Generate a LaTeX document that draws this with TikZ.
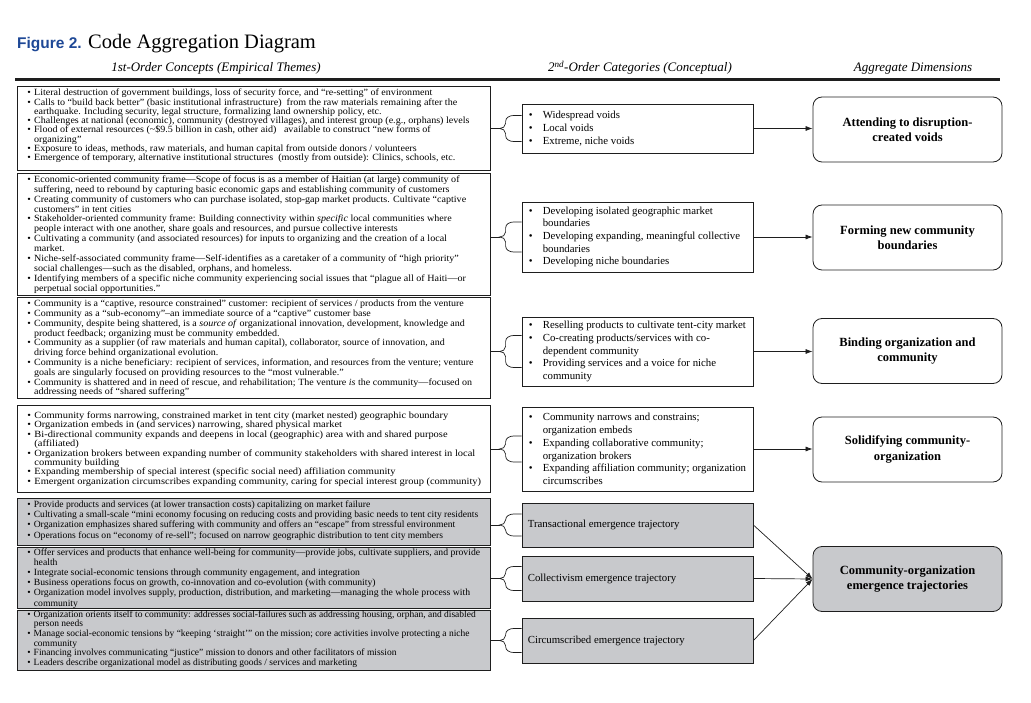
\documentclass[tikz,border=0pt]{standalone}
\usepackage{fontspec}
\setmainfont{Liberation Serif}
\newfontfamily\figsans{Liberation Sans}
\usetikzlibrary{arrows.meta,calc}
\definecolor{boxgray}{RGB}{200,201,204}
\definecolor{figblue}{RGB}{30,72,150}
\definecolor{ink}{RGB}{30,30,30}
\newcommand{\bl}{\makebox[6.5pt][l]{\textbullet}}
\newcommand{\cl}{\hspace*{6.5pt}}
\newcommand{\Lb}[1]{\hbox{\bl #1}}
\newcommand{\Lc}[1]{\hbox{\cl #1}}
\newcommand{\mb}{\makebox[14pt][l]{\textbullet}}
\newcommand{\mc}{\hspace*{14pt}}
\newcommand{\ltx}[2]{\scalebox{#1}[1]{\vbox{\lineskiplimit=-\maxdimen #2}}}
\newcommand{\brc}[3]{%
 \coordinate (#2tip) at ($(#2.west)+(-22,0)$);
 \draw[conn] (#1.east |- #2tip) -- (#2tip);
 \draw[conn] ($(#2.west)+(0,-#3)$) -- ++(-8,0) to[out=180,in=90] ++(-8,6) -- ($(#2tip)+(6,-5)$) to[out=-90,in=0] (#2tip) to[out=0,in=90] ++(6,5) -- ($(#2.west)+(-16,#3-6)$) to[out=-90,in=180] ++(8,6) -- ++(8,0);}
\tikzset{
 lbox/.style={draw=ink, line width=0.9pt, minimum width=473pt, inner sep=0pt},
 ltext/.style={anchor=west, inner sep=0pt},
 mbox/.style={draw=ink, line width=0.8pt, minimum width=231pt, inner sep=0pt},
 mtext/.style={anchor=west, align=left, inner sep=0pt, font=\fontsize{10.8}{12.7}\selectfont},
 rbox/.style={draw=ink, line width=0.8pt, rounded corners=9pt, minimum width=189pt, minimum height=65pt, align=center, inner sep=0pt, font=\bfseries\fontsize{12.5}{15.5}\selectfont},
 graybox/.style={fill=boxgray},
 hdr/.style={anchor=base, inner sep=0pt, font=\itshape\fontsize{13}{13}\selectfont},
 conn/.style={draw=ink, line width=0.7pt},
 arr/.style={conn, -{Latex[length=7pt,width=5pt]}}
}
\begin{document}
\begin{tikzpicture}[x=1pt,y=-1pt]
\useasboundingbox (0,0) rectangle (1031,703);
% title
\node[anchor=base west, inner sep=0pt, text=figblue, font=\figsans\bfseries\fontsize{15.5}{15.5}\selectfont] (fig) at (17,49) {Figure 2.};
\node[anchor=base west, inner sep=0pt, font=\fontsize{20.5}{20.5}\selectfont] (ttl) at ($(fig.base east)+(6,0)$) {Code Aggregation Diagram};
\node[hdr] (h1) at (216,72) {1st-Order Concepts (Empirical Themes)};
\node[hdr] (h2) at (640,72) {2\textsuperscript{nd}-Order Categories (Conceptual)};
\node[hdr] (h3) at (913,72) {Aggregate Dimensions};
\coordinate (rl) at (15,80);
\coordinate (rr) at (1000,80);
\draw[ink, line width=3pt] (rl) -- (rr);
% left boxes
\node[lbox, minimum height=84pt] (l1) at (253.5,128) {};
\node[ltext, font=\fontsize{9.5}{9.3}\selectfont] (t1) at ($(l1.west)+(10.5,-2)$) {\ltx{1.06}{%
\Lb{Literal destruction of government buildings, loss of security force, and “re-setting” of environment}
\Lb{Calls to “build back better” (basic institutional infrastructure) \ from the raw materials remaining after the}
\Lc{earthquake. Including security, legal structure, formalizing land ownership policy, etc.}
\Lb{Challenges at national (economic), community (destroyed villages), and interest group (e.g., orphans) levels}
\Lb{Flood of external resources (\textasciitilde\$9.5 billion in cash, other aid) \ \ available to construct “new forms of}
\Lc{organizing”}
\Lb{Exposure to ideas, methods, raw materials, and human capital from outside donors / volunteers}
\Lb{Emergence of temporary, alternative institutional structures \ (mostly from outside): Clinics, schools, etc.}}};
\node[lbox, minimum height=122pt] (l2) at (253.5,234) {};
\node[ltext, font=\fontsize{9.5}{9.9}\selectfont] (t2) at ($(l2.west)+(10.5,0.5)$) {\ltx{1.06}{%
\Lb{Economic-oriented community frame—Scope of focus is as a member of Haitian (at large) community of}
\Lc{suffering, need to rebound by capturing basic economic gaps and establishing community of customers}
\Lb{Creating community of customers who can purchase isolated, stop-gap market products. Cultivate “captive}
\Lc{customers” in tent cities}
\Lb{Stakeholder-oriented community frame: Building connectivity within \textit{specific} local communities where}
\Lc{people interact with one another, share goals and resources, and pursue collective interests}
\Lb{Cultivating a community (and associated resources) for inputs to organizing and the creation of a local}
\Lc{market.}
\Lb{Niche-self-associated community frame—Self-identifies as a caretaker of a community of “high priority”}
\Lc{social challenges—such as the disabled, orphans, and homeless.}
\Lb{Identifying members of a specific niche community experiencing social issues that “plague all of Haiti—or}
\Lc{perpetual social opportunities.”}}};
\node[lbox, minimum height=101pt] (l3) at (253.5,348) {};
\node[ltext, font=\fontsize{9.5}{9.8}\selectfont] (t3) at ($(l3.west)+(10.5,0.5)$) {\ltx{1.055}{%
\Lb{Community is a “captive, resource constrained” customer: recipient of services / products from the venture}
\Lb{Community as a “sub-economy”–an immediate source of a “captive” customer base}
\Lb{Community, despite being shattered, is a \textit{source of} organizational innovation, development, knowledge and}
\Lc{product feedback; organizing must be community embedded.}
\Lb{Community as a supplier (of raw materials and human capital), collaborator, source of innovation, and}
\Lc{driving force behind organizational evolution.}
\Lb{Community is a niche beneficiary: recipient of services, information, and resources from the venture; venture}
\Lc{goals are singularly focused on providing resources to the “most vulnerable.”}
\Lb{Community is shattered and in need of rescue, and rehabilitation; The venture \textit{is} the community—focused on}
\Lc{addressing needs of “shared suffering”}}};
\node[lbox, minimum height=87pt] (l4) at (253.5,448.5) {};
\node[ltext, font=\fontsize{9.5}{9.4}\selectfont] (t4) at ($(l4.west)+(10.5,0.5)$) {\ltx{1.1}{%
\Lb{Community forms narrowing, constrained market in tent city (market nested) geographic boundary}
\Lb{Organization embeds in (and services) narrowing, shared physical market}
\Lb{Bi-directional community expands and deepens in local (geographic) area with and shared purpose}
\Lc{(affiliated)}
\Lb{Organization brokers between expanding number of community stakeholders with shared interest in local}
\Lc{community building}
\Lb{Expanding membership of special interest (specific social need) affiliation community}
\Lb{Emergent organization circumscribes expanding community, caring for special interest group (community)}}};
\node[lbox, graybox, minimum height=47pt] (l5) at (253.5,521.5) {};
\node[ltext, font=\fontsize{9.5}{10.2}\selectfont] (t5) at ($(l5.west)+(10.5,-1)$) {\ltx{1.01}{%
\Lb{Provide products and services (at lower transaction costs) capitalizing on market failure}
\Lb{Cultivating a small-scale “mini economy focusing on reducing costs and providing basic needs to tent city residents}
\Lb{Organization emphasizes shared suffering with community and offers an “escape” from stressful environment}
\Lb{Operations focus on “economy of re-sell”; focused on narrow geographic distribution to tent city members}}};
\node[lbox, graybox, minimum height=61pt] (l6) at (253.5,577.5) {};
\node[ltext, font=\fontsize{9.5}{10.1}\selectfont] (t6) at ($(l6.west)+(10.5,1)$) {\ltx{1.02}{%
\Lb{Offer services and products that enhance well-being for community—provide jobs, cultivate suppliers, and provide}
\Lc{health}
\Lb{Integrate social-economic tensions through community engagement, and integration}
\Lb{Business operations focus on growth, co-innovation and co-evolution (with community)}
\Lb{Organization model involves supply, production, distribution, and marketing—managing the whole process with}
\Lc{community}}};
\node[lbox, graybox, minimum height=60pt] (l7) at (253.5,640) {};
\node[ltext, font=\fontsize{9.5}{9.7}\selectfont] (t7) at ($(l7.west)+(10.5,-1)$) {\ltx{1.0}{%
\Lb{Organization orients itself to community: addresses social-failures such as addressing housing, orphan, and disabled}
\Lc{person needs}
\Lb{Manage social-economic tensions by “keeping ‘straight’” on the mission; core activities involve protecting a niche}
\Lc{community}
\Lb{Financing involves communicating “justice” mission to donors and other facilitators of mission}
\Lb{Leaders describe organizational model as distributing goods / services and marketing}}};
% middle boxes
\node[mbox, minimum height=49pt] (m1) at (637.5,128.5) {};
\node[mtext] (u1) at ($(m1.west)+(7,0)$) {\mb Widespread voids\\ \mb Local voids\\ \mb Extreme, niche voids};
\node[mbox, minimum height=70pt] (m2) at (637.5,237) {};
\node[mtext] (u2) at ($(m2.west)+(7,0)$) {\mb Developing isolated geographic market\\ \mc boundaries\\ \mb Developing expanding, meaningful collective\\ \mc boundaries\\ \mb Developing niche boundaries};
\node[mbox, minimum height=69pt] (m3) at (637.5,351.5) {};
\node[mtext] (u3) at ($(m3.west)+(7,0)$) {\mb Reselling products to cultivate tent-city market\\ \mb Co-creating products/services with co-\\ \mc dependent community\\ \mb Providing services and a voice for niche\\ \mc community};
\node[mbox, minimum height=84pt] (m4) at (637.5,449) {};
\node[mtext] (u4) at ($(m4.west)+(7,0)$) {\mb Community narrows and constrains;\\ \mc organization embeds\\ \mb Expanding collaborative community;\\ \mc organization brokers\\ \mb Expanding affiliation community; organization\\ \mc circumscribes};
\node[mbox, graybox, minimum height=44pt] (m5) at (637.5,525) {};
\node[mtext] (u5) at ($(m5.west)+(6,0)$) {Transactional emergence trajectory};
\node[mbox, graybox, minimum height=45pt] (m6) at (637.5,578.5) {};
\node[mtext] (u6) at ($(m6.west)+(6,0)$) {Collectivism emergence trajectory};
\node[mbox, graybox, minimum height=45pt] (m7) at (637.5,640.5) {};
\node[mtext] (u7) at ($(m7.west)+(6,0)$) {Circumscribed emergence trajectory};
% right boxes
\node[rbox] (r1) at (907.5,129.5) {Attending to disruption-\\created voids};
\node[rbox] (r2) at (907.5,237.5) {Forming new community\\boundaries};
\node[rbox] (r3) at (907.5,351) {Binding organization and\\community};
\node[rbox] (r4) at (907.5,449.5) {Solidifying community-\\organization};
\node[rbox, graybox] (r5) at (907.5,579) {Community-organization\\emergence trajectories};
% braces
\brc{l1}{m1}{13}
\brc{l2}{m2}{15}
\brc{l3}{m3}{16}
\brc{l4}{m4}{13}
\brc{l5}{m5}{11}
\brc{l6}{m6}{12}
\brc{l7}{m7}{12}
% arrows
\draw[arr] (m1.east) -- (m1.east -| r1.west);
\draw[arr] (m2.east) -- (m2.east -| r2.west);
\draw[arr] (m3.east) -- (m3.east -| r3.west);
\draw[arr] (m4.east) -- (m4.east -| r4.west);
\draw[arr] (m5.east) -- (r5.west);
\draw[arr] (m6.east) -- (r5.west);
\draw[arr] (m7.east) -- (r5.west);
\end{tikzpicture}
\end{document}
